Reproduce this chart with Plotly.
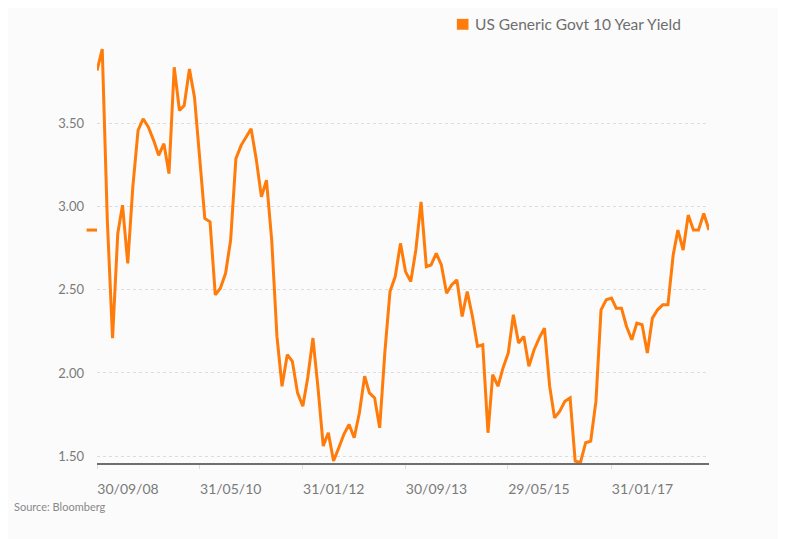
import plotly.graph_objects as go
import pandas as pd

# month-end US 10y yield, Sep 2008 .. Aug 2018
months = pd.date_range("2008-09-30", periods=120, freq="ME")
yields = [
    3.82, 3.95, 2.92, 2.21,
    2.84, 3.01, 2.66, 3.12, 3.46, 3.53, 3.48, 3.40, 3.31, 3.38, 3.20, 3.84,
    3.58, 3.61, 3.83, 3.66, 3.29, 2.93, 2.91, 2.47, 2.51, 2.60, 2.80, 3.29,
    3.37, 3.42, 3.47, 3.29, 3.06, 3.16, 2.80, 2.22, 1.92, 2.11, 2.07, 1.88,
    1.80, 1.97, 2.21, 1.91, 1.56, 1.64, 1.47, 1.55, 1.63, 1.69, 1.61, 1.76,
    1.98, 1.88, 1.85, 1.67, 2.13, 2.49, 2.58, 2.78, 2.61, 2.55, 2.74, 3.03,
    2.64, 2.65, 2.72, 2.65, 2.48, 2.53, 2.56, 2.34, 2.49, 2.34, 2.16, 2.17,
    1.64, 1.99, 1.92, 2.03, 2.12, 2.35, 2.18, 2.22, 2.04, 2.14, 2.21, 2.27,
    1.92, 1.73, 1.77, 1.83, 1.85, 1.47, 1.46, 1.58, 1.59, 1.83, 2.38, 2.44,
    2.45, 2.39, 2.39, 2.28, 2.20, 2.30, 2.29, 2.12, 2.33, 2.38, 2.41, 2.41,
    2.71, 2.86, 2.74, 2.95, 2.86, 2.86, 2.96, 2.86,
]

tick_dates = ["2008-09-30", "2010-05-31", "2012-01-31", "2013-09-30", "2015-05-29", "2017-01-31"]
tick_labels = ["30/09/08", "31/05/10", "31/01/12", "30/09/13", "29/05/15", "31/01/17"]
y_ticks = [1.5, 2.0, 2.5, 3.0, 3.5]
y_labels = ["1.50", "2.00", "2.50", "3.00", "3.50"]

orange = "#ff7b0a"
grey = "#7a7a7a"

fig = go.Figure()
fig.add_trace(go.Scatter(
    x=months, y=yields, mode="lines",
    line=dict(color=orange, width=3),
    name="US Generic Govt 10 Year Yield",
    showlegend=False,
))

# last value marker on the left axis
fig.add_shape(type="line", xref="paper", yref="y",
              x0=-0.017, x1=0, y0=yields[-1], y1=yields[-1],
              line=dict(color=orange, width=3))

# legend swatch + text
fig.add_shape(type="rect", xref="paper", yref="paper",
              x0=0.588, x1=0.607, y0=1.034, y1=1.06,
              fillcolor=orange, line_width=0)
fig.add_annotation(xref="paper", yref="paper", x=0.614, y=1.047,
                   text="US Generic Govt 10 Year Yield", showarrow=False,
                   xanchor="left", yanchor="middle",
                   font=dict(size=15.5, color="#6e6e6e"))

fig.add_annotation(xref="paper", yref="paper", x=-0.139, y=-0.103,
                   text="Source: Bloomberg", showarrow=False,
                   xanchor="left", yanchor="middle",
                   font=dict(size=11, color="#888888"))

fig.update_xaxes(
    range=[months[0], months[-1]],
    tickvals=tick_dates, ticktext=tick_labels,
    showgrid=False, showline=True, linecolor="#6f6f6f", linewidth=2,
    ticks="outside", ticklen=4, tickcolor="#dddddd", tickwidth=1,
    ticklabelshift=31, ticklabelstandoff=8,
    tickfont=dict(size=14, color=grey),
)
fig.update_yaxes(
    range=[1.458, 3.98],
    tickvals=y_ticks, ticktext=y_labels,
    showgrid=True, gridcolor="#dcdcdc", griddash="dot", gridwidth=1,
    zeroline=False, showline=False, ticks="",
    ticklabelstandoff=12,
    tickfont=dict(size=13, color=grey),
)
# page body adds an 8px offset, margins compensate for it
fig.update_layout(
    width=786, height=539,
    margin=dict(l=89, r=85, t=36, b=84),
    paper_bgcolor="#fbfbfb", plot_bgcolor="#fbfbfb",
    font=dict(family="Lato, sans-serif"),
)

fig.write_html("out.html")
